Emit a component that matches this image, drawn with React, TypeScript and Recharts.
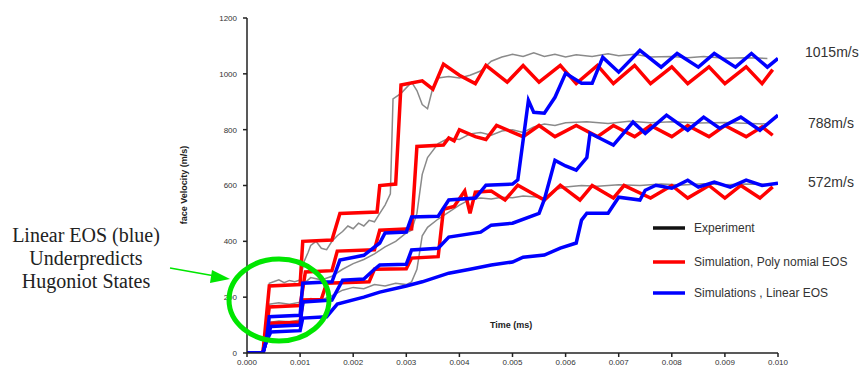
import React from "react";
import { LineChart, Line, XAxis, YAxis } from "recharts";

type P = [number, number];

const xTicks = [0, 0.001, 0.002, 0.003, 0.004, 0.005, 0.006, 0.007, 0.008, 0.009, 0.01];
const yTicks = [0, 200, 400, 600, 800, 1000, 1200];

const exp1015: P[] = [[0,0],[0.0003,0],[0.00038,150],[0.00042,250],[0.0005,255],[0.0006,262],[0.0007,252],[0.0008,260],[0.0009,255],[0.001,262],[0.00108,330],[0.00115,360],[0.0012,385],[0.0013,400],[0.0014,375],[0.0015,370],[0.0016,400],[0.0017,420],[0.0018,435],[0.0019,455],[0.002,445],[0.0021,465],[0.0022,455],[0.0023,475],[0.0024,470],[0.0025,500],[0.0026,530],[0.0027,570],[0.00275,910],[0.0029,930],[0.0031,970],[0.0032,940],[0.0033,890],[0.0034,875],[0.0035,950],[0.0036,985],[0.0038,990],[0.004,985],[0.0042,995],[0.0044,1010],[0.0046,1045],[0.0048,1060],[0.005,1070],[0.0052,1062],[0.0054,1075],[0.0056,1062],[0.0058,1070],[0.006,1060],[0.0062,1068],[0.0065,1062],[0.0068,1072],[0.007,1065],[0.0073,1070],[0.0076,1060],[0.008,1062],[0.0083,1058],[0.0086,1062],[0.009,1056],[0.0094,1058],[0.0098,1055]];
const exp788: P[] = [[0,0],[0.0003,0],[0.00038,100],[0.00042,175],[0.0006,180],[0.0008,175],[0.001,182],[0.00108,250],[0.0012,270],[0.0014,262],[0.0016,275],[0.0018,300],[0.002,320],[0.0022,335],[0.0024,355],[0.0026,380],[0.0028,400],[0.003,430],[0.0031,440],[0.0032,500],[0.0033,640],[0.0034,700],[0.0036,750],[0.0038,770],[0.004,765],[0.0042,785],[0.0044,790],[0.0046,780],[0.0048,795],[0.005,800],[0.0052,790],[0.0054,810],[0.0056,820],[0.0058,815],[0.006,825],[0.0064,828],[0.0068,822],[0.0072,830],[0.0076,825],[0.008,828],[0.0085,824],[0.009,826],[0.0098,820]];
const exp572: P[] = [[0,0],[0.0003,0],[0.00038,60],[0.00042,110],[0.0006,115],[0.0008,112],[0.001,118],[0.00108,180],[0.0012,195],[0.0014,190],[0.0016,205],[0.0018,225],[0.002,235],[0.0022,230],[0.0024,245],[0.0026,240],[0.0028,250],[0.003,245],[0.0031,255],[0.0032,300],[0.0033,420],[0.0034,450],[0.0036,480],[0.0038,505],[0.004,530],[0.0042,550],[0.0044,555],[0.0046,552],[0.0048,558],[0.005,556],[0.0052,562],[0.0054,560],[0.0056,555],[0.0058,585],[0.006,595],[0.0063,600],[0.0066,597],[0.007,603],[0.0074,600],[0.0078,605],[0.0082,602],[0.0086,606],[0.009,603],[0.0094,605],[0.0098,604]];

const poly1015: P[] = [[0,0],[0.0003,0],[0.00042,240],[0.001,245],[0.00105,400],[0.0016,405],[0.00175,500],[0.00245,505],[0.0025,600],[0.0028,605],[0.0029,960],[0.0033,975],[0.0035,945],[0.0037,1035],[0.004,995],[0.0043,965],[0.0045,1030],[0.0049,970],[0.0052,1030],[0.0055,970],[0.0059,1030],[0.0062,965],[0.0066,1030],[0.0069,965],[0.0073,1030],[0.0076,965],[0.008,1025],[0.0083,965],[0.0087,1025],[0.009,965],[0.0094,1025],[0.0097,965],[0.0099,1015]];
const poly788: P[] = [[0,0],[0.0003,0],[0.00042,165],[0.001,170],[0.0011,290],[0.0016,295],[0.0017,365],[0.0024,370],[0.0025,440],[0.0031,445],[0.0032,740],[0.0037,745],[0.0038,770],[0.0039,760],[0.004,800],[0.0043,775],[0.0045,765],[0.0047,815],[0.0052,775],[0.0055,815],[0.0058,775],[0.0062,815],[0.0066,775],[0.0069,815],[0.0073,775],[0.0076,815],[0.008,775],[0.0083,815],[0.0087,775],[0.009,815],[0.0094,775],[0.0097,810],[0.0099,780]];
const poly572: P[] = [[0,0],[0.0003,0],[0.00045,107],[0.001,110],[0.00105,190],[0.0014,192],[0.0015,250],[0.0023,255],[0.0024,300],[0.003,302],[0.0031,340],[0.0036,345],[0.0037,515],[0.0039,525],[0.0041,580],[0.0042,500],[0.0043,576],[0.0046,580],[0.00486,548],[0.0051,601],[0.0056,548],[0.0059,601],[0.00627,548],[0.0065,600],[0.0069,555],[0.0071,600],[0.0076,555],[0.008,600],[0.0083,555],[0.0087,600],[0.009,555],[0.0093,600],[0.00966,555],[0.0099,595]];

const lin1015: P[] = [[0,0],[0.0003,0],[0.00036,40],[0.00042,130],[0.001,135],[0.00105,250],[0.0016,255],[0.00175,333],[0.0022,350],[0.0025,394],[0.0026,430],[0.003,433],[0.0031,487],[0.0036,490],[0.0038,548],[0.0043,555],[0.0045,601],[0.005,605],[0.0051,620],[0.0052,762],[0.0053,905],[0.0054,862],[0.0056,859],[0.0058,916],[0.006,1002],[0.0063,966],[0.0065,966],[0.0067,1059],[0.007,1006],[0.0074,1084],[0.0078,1024],[0.0081,1073],[0.0085,1024],[0.0088,1073],[0.0092,1024],[0.0095,1073],[0.0098,1024],[0.01,1055]];
const lin788: P[] = [[0,0],[0.0003,0],[0.00036,40],[0.00045,95],[0.001,100],[0.00105,183],[0.0016,190],[0.0018,261],[0.0022,265],[0.0024,300],[0.0025,315],[0.003,318],[0.0031,369],[0.0036,375],[0.0038,415],[0.0044,433],[0.0046,458],[0.005,465],[0.0055,500],[0.0056,550],[0.0057,620],[0.0058,690],[0.006,670],[0.0062,655],[0.0064,700],[0.00646,787],[0.0069,745],[0.00727,827],[0.0075,787],[0.0079,852],[0.0083,798],[0.0086,845],[0.0089,805],[0.0093,845],[0.00966,798],[0.01,852]];
const lin572: P[] = [[0,0],[0.0003,0],[0.00036,40],[0.00045,75],[0.001,80],[0.00105,125],[0.0015,130],[0.0017,175],[0.0022,200],[0.0025,218],[0.003,240],[0.0033,255],[0.0038,286],[0.0042,300],[0.0046,315],[0.005,326],[0.0052,343],[0.0056,351],[0.0059,376],[0.0062,394],[0.0063,476],[0.0064,501],[0.0068,501],[0.007,558],[0.0074,548],[0.0075,583],[0.0077,601],[0.008,590],[0.0083,619],[0.0085,594],[0.0088,612],[0.0091,594],[0.0094,619],[0.0097,600],[0.01,608]];

const speedLabels = ["1015m/s", "788m/s", "572m/s"];
const legendNames = ["Experiment", "Simulation, Poly nomial EOS", "Simulations , Linear EOS"];
const annotationLines = ["Linear EOS (blue)", "Underpredicts", "Hugoniot States"];

const toRows = (a: P[]) => a.map(([x, y]) => ({ x, y }));

const expSeries = [exp1015, exp788, exp572];
const polySeries = [poly1015, poly788, poly572];
const linSeries = [lin1015, lin788, lin572];

const RED = "#ff0000";
const BLUE = "#0000ff";
const GRAY = "#8a8a8a";
const GREEN = "#00e600";
const SANS = "Arial, Liberation Sans, sans-serif";

export default function App() {
  const tickStyle = { fontSize: 8, fill: "#333", fontFamily: SANS };
  return (
    <div style={{ position: "absolute", left: 0, top: 0, width: 868, height: 376, background: "#fff" }}>
      <LineChart width={868} height={376} margin={{ top: 18, right: 90, bottom: 0, left: 207 }}>
        <XAxis
          type="number"
          dataKey="x"
          domain={[0, 0.01]}
          ticks={xTicks}
          tickFormatter={(v: number) => v.toFixed(3)}
          height={23}
          tick={tickStyle}
          tickSize={4}
          tickMargin={2}
          stroke="#222"
          strokeWidth={1.5}
          allowDataOverflow
        />
        <YAxis
          type="number"
          domain={[0, 1200]}
          ticks={yTicks}
          width={40}
          tick={tickStyle}
          tickSize={4}
          tickMargin={6}
          stroke="#222"
          strokeWidth={1.5}
          allowDataOverflow
        />
        {expSeries.map((s, i) => (
          <Line key={"e" + i} data={toRows(s)} dataKey="y" stroke={GRAY} strokeWidth={1.5} dot={false} isAnimationActive={false} type="linear" />
        ))}
        {polySeries.map((s, i) => (
          <Line key={"p" + i} data={toRows(s)} dataKey="y" stroke={RED} strokeWidth={3.5} dot={false} isAnimationActive={false} type="linear" />
        ))}
        {linSeries.map((s, i) => (
          <Line key={"l" + i} data={toRows(s)} dataKey="y" stroke={BLUE} strokeWidth={3.5} dot={false} isAnimationActive={false} type="linear" />
        ))}
      </LineChart>
      <svg width={868} height={376} style={{ position: "absolute", left: 0, top: 0, pointerEvents: "none" }}>
        <text x={187} y={185} transform="rotate(-90 187 185)" textAnchor="middle" fontSize={9} fontWeight="bold" fill="#222" fontFamily={SANS}>
          face Velocity (m/s)
        </text>
        <text x={490} y={328} fontSize={9} fontWeight="bold" fill="#222" fontFamily={SANS}>
          Time (ms)
        </text>
        {speedLabels.map((t, i) => (
          <text key={t} x={i === 0 ? 805 : 808} y={[57, 128, 187][i]} fontSize={14} fill="#333" fontFamily={SANS}>
            {t}
          </text>
        ))}
        {legendNames.map((t, i) => {
          const y = [228, 262, 293][i];
          const c = ["#111", RED, BLUE][i];
          return (
            <g key={t}>
              <line x1={653} x2={685} y1={y} y2={y} stroke={c} strokeWidth={3.5} />
              <text x={694} y={y + 1} fontSize={12} fill="#333" fontFamily={SANS} dominantBaseline="middle">
                {t}
              </text>
            </g>
          );
        })}
        <ellipse cx={279} cy={300} rx={50} ry={41} fill="none" stroke={GREEN} strokeWidth={5} />
        <line x1={170} y1={268} x2={215} y2={276} stroke={GREEN} strokeWidth={1.5} />
        <polygon points="230,279 212,270 210,283" fill={GREEN} />
        {annotationLines.map((t, i) => (
          <text key={t} x={86} y={242 + i * 23} textAnchor="middle" fontSize={20} fill="#222" fontFamily="Liberation Serif, Times New Roman, serif">
            {t}
          </text>
        ))}
      </svg>
    </div>
  );
}
